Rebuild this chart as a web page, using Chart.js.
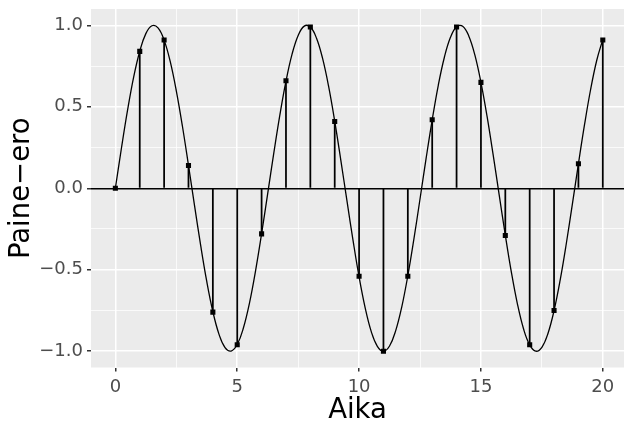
<!DOCTYPE html>
<html>
<head>
<meta charset="utf-8">
<script src="https://cdn.jsdelivr.net/npm/chart.js@4/dist/chart.umd.min.js"></script>
<style>
  html, body { margin: 0; padding: 0; background: #fff; overflow: hidden; }
  #wrap { width: 624px; height: 421px; overflow: hidden; }
</style>
</head>
<body>
<div id="wrap"><canvas id="chart" width="628" height="421"></canvas></div>
<script>
// sample times and measured pressure difference
const sampleTimes = [0, 1, 2, 3, 4, 5, 6, 7, 8, 9, 10, 11, 12, 13, 14, 15, 16, 17, 18, 19, 20];
const sampleValues = [0.00, 0.84, 0.91, 0.14, -0.76, -0.96, -0.28, 0.66, 0.99, 0.41, -0.54,
  -1.00, -0.54, 0.42, 0.99, 0.65, -0.29, -0.96, -0.75, 0.15, 0.91];

// continuous curve, read every 0.25 time units
const curveTimes = [0, 0.25, 0.5, 0.75, 1, 1.25, 1.5, 1.75, 2, 2.25, 2.5, 2.75, 3, 3.25, 3.5, 3.75,
  4, 4.25, 4.5, 4.75, 5, 5.25, 5.5, 5.75, 6, 6.25, 6.5, 6.75, 7, 7.25, 7.5, 7.75,
  8, 8.25, 8.5, 8.75, 9, 9.25, 9.5, 9.75, 10, 10.25, 10.5, 10.75, 11, 11.25, 11.5, 11.75,
  12, 12.25, 12.5, 12.75, 13, 13.25, 13.5, 13.75, 14, 14.25, 14.5, 14.75, 15, 15.25, 15.5, 15.75,
  16, 16.25, 16.5, 16.75, 17, 17.25, 17.5, 17.75, 18, 18.25, 18.5, 18.75, 19, 19.25, 19.5, 19.75, 20];
const curveValues = [0.000, 0.247, 0.479, 0.682, 0.841, 0.949, 0.997, 0.984, 0.909, 0.778, 0.598, 0.382, 0.141, -0.108, -0.351, -0.572,
  -0.757, -0.895, -0.978, -0.999, -0.959, -0.859, -0.706, -0.508, -0.279, -0.033, 0.215, 0.450, 0.657, 0.823, 0.938, 0.995,
  0.989, 0.922, 0.798, 0.625, 0.412, 0.173, -0.075, -0.318, -0.544, -0.734, -0.880, -0.970, -1.000, -0.968, -0.875, -0.729,
  -0.537, -0.311, -0.066, 0.183, 0.420, 0.632, 0.804, 0.926, 0.991, 0.994, 0.935, 0.818, 0.650, 0.442, 0.206, -0.042,
  -0.288, -0.516, -0.712, -0.864, -0.961, -1.000, -0.976, -0.891, -0.751, -0.564, -0.342, -0.099, 0.150, 0.390, 0.606, 0.784, 0.913];

// axis breaks (major + minor)
const xBreaks = [0, 2.5, 5, 7.5, 10, 12.5, 15, 17.5, 20];
const yBreaks = [-1, -0.75, -0.5, -0.25, 0, 0.25, 0.5, 0.75, 1];
const xLabelled = [0, 5, 10, 15, 20];
const yLabelled = [-1, -0.5, 0, 0.5, 1];

const xTitle = 'Aika';
const yTitle = 'Paine\u2212ero';

const FONT = "'DejaVu Sans', sans-serif";

const isMajor = (list, v) => v !== undefined && list.some(b => Math.abs(b - v) < 1e-9);
const tickVal = c => (c && c.tick ? c.tick.value : undefined);
const fmtY = v => (v < 0 ? '\u2212' : '') + Math.abs(v).toFixed(1);

// grey ggplot panel
const panelBg = {
  id: 'panelBg',
  beforeDraw(chart) {
    const { ctx, chartArea: a } = chart;
    ctx.save();
    ctx.fillStyle = '#EBEBEB';
    ctx.fillRect(a.left, a.top, a.right - a.left, a.bottom - a.top);
    ctx.restore();
  }
};

new Chart(document.getElementById('chart'), {
  data: {
    datasets: [
      {
        type: 'bar',
        data: sampleTimes.map((t, i) => ({ x: t, y: sampleValues[i] })),
        backgroundColor: '#000',
        barThickness: 1.1,
        order: 3
      },
      {
        type: 'line',
        data: curveTimes.map((t, i) => ({ x: t, y: curveValues[i] })),
        borderColor: '#000',
        borderWidth: 1.3,
        pointRadius: 0,
        tension: 0.4,
        fill: false,
        order: 2
      },
      {
        type: 'scatter',
        data: sampleTimes.map((t, i) => ({ x: t, y: sampleValues[i] })),
        pointStyle: 'rect',
        pointRadius: 3.6,
        backgroundColor: '#000',
        borderColor: '#000',
        borderWidth: 0,
        order: 1
      }
    ]
  },
  options: {
    responsive: false,
    animation: false,
    layout: { padding: { top: 9, right: 0, left: 0, bottom: 0 } },
    plugins: { legend: { display: false }, tooltip: { enabled: false } },
    scales: {
      x: {
        type: 'linear',
        min: -1,
        max: 20.87,
        offset: false,
        afterBuildTicks: s => { s.ticks = xBreaks.map(v => ({ value: v })); },
        afterFit: s => { s.height = 53.5; s.paddingLeft = 0; s.paddingRight = 0; },
        grid: {
          offset: false,
          color: '#FFFFFF',
          lineWidth: c => isMajor(xLabelled, tickVal(c)) ? 1.5 : 0.75,
          tickColor: c => isMajor(xLabelled, tickVal(c)) ? '#333333' : 'rgba(0,0,0,0)',
          tickLength: 4
        },
        border: { display: false },
        ticks: {
          autoSkip: false,
          maxRotation: 0,
          padding: 5,
          color: '#4D4D4D',
          font: { family: FONT, size: 18 },
          callback: v => isMajor(xLabelled, v) ? String(v) : ''
        },
        title: {
          display: true,
          text: xTitle,
          color: '#000',
          font: { family: FONT, size: 27.5 },
          padding: { top: 0, bottom: -6 }
        }
      },
      y: {
        type: 'linear',
        min: -1.1,
        max: 1.1,
        afterBuildTicks: s => { s.ticks = yBreaks.map(v => ({ value: v })); },
        afterFit: s => { s.width = 91; s.paddingTop = 0; s.paddingBottom = 0; },
        grid: {
          color: c => (tickVal(c) !== undefined && Math.abs(tickVal(c)) < 1e-9) ? '#000000' : '#FFFFFF',
          lineWidth: c => isMajor(yLabelled, tickVal(c)) ? 1.5 : 0.75,
          tickColor: c => isMajor(yLabelled, tickVal(c)) ? '#333333' : 'rgba(0,0,0,0)',
          tickLength: 4
        },
        border: { display: false },
        ticks: {
          autoSkip: false,
          padding: 4,
          color: '#4D4D4D',
          font: { family: FONT, size: 18 },
          callback: v => isMajor(yLabelled, v) ? fmtY(v) : ''
        },
        title: {
          display: true,
          text: yTitle,
          color: '#000',
          font: { family: FONT, size: 27.5 },
          padding: { top: 5, bottom: 0 }
        }
      }
    }
  },
  plugins: [panelBg]
});
</script>
</body>
</html>
